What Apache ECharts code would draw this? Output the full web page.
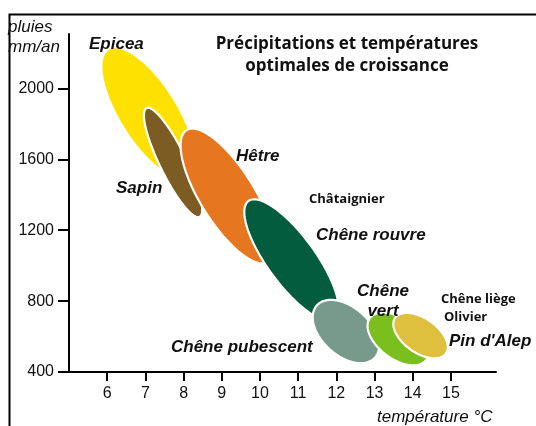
<!DOCTYPE html>
<html>
<head>
<meta charset="utf-8">
<script src="https://cdn.jsdelivr.net/npm/echarts@6/dist/echarts.min.js"></script>
<style>html,body{margin:0;padding:0;background:#fff;}#c{width:536px;height:426px;}</style>
</head>
<body>
<div id="c"></div>
<script>
// Species optimal ranges: major axis from (tempStart, rainStart) to (tempEnd, rainEnd), half width in °C
var species   = ['Epicea', 'Sapin', 'Hêtre', 'Chêne rouvre', 'Chêne pubescent', 'Chêne vert', "Pin d'Alep"];
var tempStart = [6.03, 7.03, 8.08, 9.70, 11.49, 12.88, 13.54];
var rainStart = [2222, 1889, 1765, 1365, 776, 705, 706];
var tempEnd   = [8.13, 8.42, 10.22, 11.95, 13.01, 14.35, 14.87];
var rainEnd   = [1500, 1275, 1021, 699, 481, 468, 505];
var halfWidth = [0.76, 0.35, 0.71, 0.63, 0.63, 0.52, 0.45];
var colors    = ['#FEE100', '#7D5C24', '#E6761F', '#035C3E', '#789A8C', '#7BBF1F', '#DFBF3E'];

var xTicks = [6, 7, 8, 9, 10, 11, 12, 13, 14, 15];
var yTicks = [400, 800, 1200, 1600, 2000];

var data = species.map(function (s, i) {
  return { name: s, value: [tempStart[i], rainStart[i], tempEnd[i], rainEnd[i], halfWidth[i]], itemStyle: { color: colors[i] } };
});

var chart = echarts.init(document.getElementById('c'), null, { renderer: 'canvas' });

function renderEllipse(params, api) {
  var p1 = api.coord([api.value(0), api.value(1)]);
  var p2 = api.coord([api.value(2), api.value(3)]);
  var b = api.size([api.value(4), 0])[0];
  var cx = (p1[0] + p2[0]) / 2, cy = (p1[1] + p2[1]) / 2;
  var dx = p2[0] - p1[0], dy = p2[1] - p1[1];
  var a = Math.sqrt(dx * dx + dy * dy) / 2;
  var phi = Math.atan2(dy, dx);
  var cp = Math.cos(phi), sp = Math.sin(phi);
  var pts = [];
  var N = 120;
  for (var k = 0; k < N; k++) {
    var th = 2 * Math.PI * k / N;
    var lx = a * Math.cos(th), ly = b * Math.sin(th);
    pts.push([cx + lx * cp - ly * sp, cy + lx * sp + ly * cp]);
  }
  return {
    type: 'polygon',
    shape: { points: pts },
    style: { fill: api.visual('color'), stroke: '#ffffff', lineWidth: 2.2 }
  };
}

var boldItal = 'italic bold 17px "Liberation Sans", Arial, sans-serif';
var ital = 'italic 17px "Liberation Sans", Arial, sans-serif';
var calib = 'bold 13px "Open Sans", sans-serif';
var titleFont = 'bold 17px "Open Sans", sans-serif';

function txt(x, y, t, font, align) {
  return { type: 'text', x: x, y: y, z: 100,
    style: { text: t, font: font, fill: '#111', align: align || 'left', verticalAlign: 'middle' } };
}

chart.setOption({
  animation: false,
  backgroundColor: '#fff',
  grid: { left: 69, right: 40, top: 34, bottom: 54, containLabel: false },
  xAxis: {
    type: 'value', min: 5, max: 16.18,
    axisLine: { show: true, lineStyle: { color: '#000', width: 2 } },
    axisTick: { show: true, customValues: xTicks, length: 9, lineStyle: { color: '#000', width: 2 } },
    axisLabel: { customValues: xTicks, margin: 14, color: '#111', fontSize: 16, fontFamily: '"Liberation Sans", Arial, sans-serif',
      formatter: function (v) { return String(v); } },
    splitLine: { show: false }
  },
  yAxis: {
    type: 'value', min: 400, max: 2307,
    axisLine: { show: true, lineStyle: { color: '#000', width: 2 } },
    axisTick: { show: true, customValues: yTicks, length: 11, lineStyle: { color: '#000', width: 2 } },
    axisLabel: { customValues: yTicks, margin: 15, color: '#111', fontSize: 16, fontFamily: '"Liberation Sans", Arial, sans-serif',
      formatter: function (v) { return String(v); } },
    splitLine: { show: false }
  },
  series: [{
    type: 'custom',
    renderItem: renderEllipse,
    data: data,
    clip: false
  }],
  graphic: [
    { type: 'rect', left: 7, top: 12, shape: { width: 560, height: 440 }, style: { fill: 'none', stroke: '#000', lineWidth: 2 }, z: -1 },
    txt(8, 27, 'pluies', ital),
    txt(8, 47, 'mm/an', ital),
    txt(347, 44, 'Précipitations et températures', titleFont, 'center'),
    txt(347, 66, 'optimales de croissance', titleFont, 'center'),
    txt(89, 44, 'Epicea', boldItal),
    txt(116, 188, 'Sapin', boldItal),
    txt(236, 156, 'Hêtre', boldItal),
    txt(309, 199, 'Châtaignier', calib),
    txt(316, 235, 'Chêne rouvre', boldItal),
    txt(383, 291, 'Chêne', boldItal, 'center'),
    txt(383, 311, 'vert', boldItal, 'center'),
    txt(441, 299, 'Chêne liège', calib),
    txt(444, 317, 'Olivier', calib),
    txt(449, 341, "Pin d'Alep", boldItal),
    txt(171, 347, 'Chêne pubescent', boldItal),
    txt(377, 417, 'température °C', ital)
  ]
});
</script>
</body>
</html>
